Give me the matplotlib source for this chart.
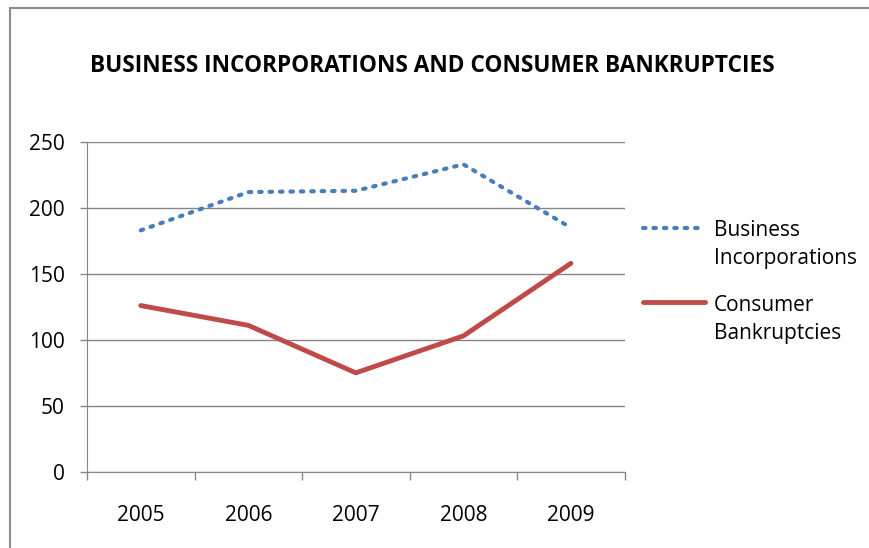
import matplotlib
matplotlib.use('Agg')
import matplotlib.pyplot as plt
from matplotlib.legend_handler import HandlerLine2D
import numpy as np

# Data
years = ['2005', '2006', '2007', '2008', '2009']
business = [183, 212, 213, 233, 185]
consumer = [126, 111, 75, 103, 158]

plt.rcParams['font.family'] = ['Open Sans', 'DejaVu Sans']


# legend handle drawn next to the first line of a two-line label
class HandlerUp(HandlerLine2D):
    def __init__(self, dy, **kw):
        super().__init__(**kw)
        self.dy = dy

    def create_artists(self, legend, orig_handle, xdescent, ydescent, width,
                       height, fontsize, trans):
        arts = super().create_artists(legend, orig_handle, xdescent, ydescent,
                                      width, height, fontsize, trans)
        for a in arts:
            a.set_ydata(np.asarray(a.get_ydata()) + self.dy)
        return arts


fig = plt.figure(figsize=(8.70, 5.48), dpi=100)
ax = fig.add_axes([0.1, 0.139, 0.618, 0.602])

# outer chart border
fig.add_artist(plt.Rectangle((0.0115, -0.05), 1.2, 1.035, transform=fig.transFigure,
                             fill=False, edgecolor='#8c8c8c', linewidth=1.5))

x = np.arange(len(years))
l1, = ax.plot(x, business, color='#4A7EBB', linewidth=3, linestyle=(0, (0.6, 1.9)),
              dash_capstyle='round', label='Business\nIncorporations')
l2, = ax.plot(x, consumer, color='#BE4B48', linewidth=3.5, solid_capstyle='round',
              label='Consumer\nBankruptcies')

ax.set_xlim(-0.5, 4.5)
ax.set_ylim(0, 250)
ax.set_yticks(np.arange(0, 251, 50))
ax.set_xticks(np.arange(-0.5, 4.6, 1))
ax.set_xticklabels([])
ax.set_xticks(x, minor=True)
ax.set_xticklabels(years, minor=True)
ax.tick_params(axis='x', which='major', length=6, color='#868686', width=1)
ax.tick_params(axis='x', which='minor', length=0, pad=24, labelsize=15)
ax.tick_params(axis='y', length=5, color='#868686', width=1, labelsize=15, pad=11)

ax.grid(axis='y', color='#868686', linewidth=1)
ax.set_axisbelow(True)
for s in ['top', 'right']:
    ax.spines[s].set_visible(False)
for s in ['left', 'bottom']:
    ax.spines[s].set_color('#868686')

fig.text(0.103, 0.88, 'BUSINESS INCORPORATIONS AND CONSUMER BANKRUPTCIES',
         fontsize=16.3, fontweight='bold', va='center', ha='left')

leg = ax.legend(loc='upper left', bbox_to_anchor=(0.739, 0.598), bbox_transform=fig.transFigure,
                frameon=False, fontsize=15, handlelength=3.0, handletextpad=0.4,
                labelspacing=1.23, borderpad=0, borderaxespad=0,
                handler_map={l1: HandlerUp(13), l2: HandlerUp(13)})
for t in leg.get_texts():
    t.set_linespacing(1.45)

fig.savefig('out.png', dpi=100)
